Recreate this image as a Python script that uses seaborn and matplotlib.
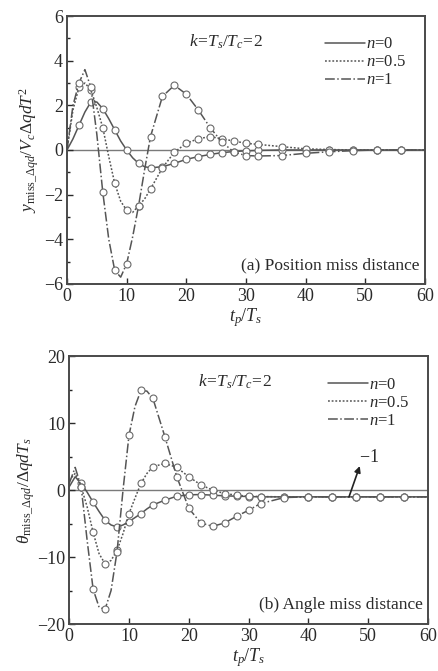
import numpy as np
import pandas as pd
import matplotlib
matplotlib.use("Agg")
import matplotlib.pyplot as plt
import seaborn as sns

sns.set_theme(style="white")
plt.rcParams['font.family'] = ['Liberation Serif', 'DejaVu Serif']
plt.rcParams['mathtext.fontset'] = 'custom'
plt.rcParams['mathtext.rm'] = 'Liberation Serif'
plt.rcParams['mathtext.it'] = 'Liberation Serif:italic'
plt.rcParams['mathtext.bf'] = 'Liberation Serif:bold'

# ---------------- data ----------------
t = [0, 1, 2, 3, 4, 5, 6, 7, 8, 9, 10, 11, 12, 13, 14, 16, 18, 20, 22, 24, 26,
     28, 30, 32, 36, 40, 44, 48, 52, 56, 60]

# (a) position miss distance
pos_n0 = [0, 0.5, 1.1, 1.7, 2.15, 2.15, 1.85, 1.4, 0.9, 0.4, 0.0, -0.35, -0.6,
          -0.75, -0.8, -0.75, -0.6, -0.42, -0.3, -0.2, -0.12, -0.07, -0.04,
          -0.02, 0, 0, 0, 0, 0, 0, 0]
pos_n05 = [0, 1.8, 2.8, 3.0, 2.7, 1.9, 1.0, -0.3, -1.5, -2.3, -2.7, -2.8, -2.5,
           -2.2, -1.75, -0.8, -0.1, 0.3, 0.5, 0.6, 0.5, 0.4, 0.3, 0.25, 0.15,
           0.05, 0.02, 0, 0, 0, 0]
pos_n1 = [0, 2.0, 3.0, 3.6, 2.8, 0.7, -1.9, -4.0, -5.4, -5.7, -5.1, -3.9, -2.5,
          -0.9, 0.6, 2.4, 2.9, 2.5, 1.8, 1.0, 0.35, -0.1, -0.25, -0.27, -0.25,
          -0.15, -0.08, -0.03, 0, 0, 0]

# (b) angle miss distance
ang_n0 = [0.5, 2.0, 1.0, -0.3, -1.8, -3.2, -4.5, -5.2, -5.5, -5.2, -4.7, -4.1,
          -3.5, -2.8, -2.2, -1.5, -0.9, -0.7, -0.65, -0.75, -0.85, -0.9, -0.95,
          -1.0, -1.0, -1.0, -1.0, -1.0, -1.0, -1.0, -1.0]
ang_n05 = [1.5, 2.5, 0.5, -2.5, -6.3, -9.5, -11.0, -10.5, -9.0, -6.5, -3.5, -1.2,
           1.0, 2.5, 3.5, 4.0, 3.4, 2.0, 0.8, 0.0, -0.5, -0.75, -0.9, -0.95,
           -1.0, -1.0, -1.0, -1.0, -1.0, -1.0, -1.0]
ang_n1 = [1.0, 3.4, 0.5, -7.5, -14.8, -17.5, -17.8, -15.0, -9.2, 0.0, 8.2, 12.5,
          14.9, 14.8, 13.7, 8.0, 2.0, -2.7, -4.9, -5.4, -4.9, -3.9, -3.0, -2.0,
          -1.1, -1.0, -1.0, -1.0, -1.0, -1.0, -1.0]

series_labels = [r"$n$=0", r"$n$=0.5", r"$n$=1"]
x_ticks = [0, 10, 20, 30, 40, 50, 60]
pos_yticks = [-6, -4, -2, 0, 2, 4, 6]
ang_yticks = [-20, -10, 0, 10, 20]
final_angle = -1

# ---------------- style ----------------
line_col = '#555555'
txt_col = '#2a2a2a'
styles = ['-', (0, (1.2, 1.2)), '-.']
marker_idx = [i for i, v in enumerate(t) if v >= 2 and v % 2 == 0 and v <= 56]

fig = plt.figure(figsize=(4.38, 6.71), dpi=100)
ax1 = fig.add_axes([0.153, 0.577, 0.817, 0.399])
ax2 = fig.add_axes([0.158, 0.070, 0.819, 0.399])


def draw(ax, ys):
    for y, ls, lab in zip(ys, styles, series_labels):
        df = pd.DataFrame({'t': t, 'v': y})
        sns.lineplot(data=df, x='t', y='v', ax=ax, color=line_col, linestyle=ls,
                     linewidth=1.1, marker='o', markersize=5,
                     markerfacecolor='white', markeredgecolor='#6a6a6a',
                     markeredgewidth=0.8, markevery=marker_idx, label=lab)
    ax.axhline(0, color='#7a7a7a', lw=1.0, zorder=0)
    for s in ax.spines.values():
        s.set_color('#4a4a4a')
        s.set_linewidth(1.4)
    ax.set_xlim(0, 60)
    ax.set_xticks(x_ticks)
    ax.tick_params(axis='both', direction='in', length=4, width=1.0,
                   labelsize=13, colors=txt_col, pad=3,
                   bottom=True, left=True, top=False, right=False)
    ax.tick_params(which='minor', direction='in', length=2.5, left=True,
                   bottom=False)
    ax.set_xlabel(r"$t_p/T_s$", fontsize=13, color=txt_col, labelpad=1)
    leg = ax.legend(loc='upper right', bbox_to_anchor=(0.99, 0.98),
                    frameon=False, fontsize=12, handlelength=2.4,
                    handletextpad=0.1, labelspacing=0.12)
    for line in leg.get_lines():
        line.set_marker('')
    for txt in leg.get_texts():
        txt.set_color(txt_col)


draw(ax1, [pos_n0, pos_n05, pos_n1])
ax1.set_ylim(-6, 6)
ax1.set_yticks(pos_yticks)
ax1.set_yticks([-5, -3, -1, 1, 3, 5], minor=True)
ax1.set_ylabel(r"$y_{\mathrm{miss\_\Delta}qd}/V_c\Delta qdT^2$", fontsize=12.5,
               color=txt_col, labelpad=2)
ax1.text(0.34, 0.905, r"$k\!=\!T_s/T_c\!=\!2$", transform=ax1.transAxes,
         fontsize=12.5, color=txt_col, va='center')
ax1.text(0.985, 0.04, "(a) Position miss distance", transform=ax1.transAxes,
         fontsize=12.5, color=txt_col, ha='right', va='bottom')

draw(ax2, [ang_n0, ang_n05, ang_n1])
ax2.set_ylim(-20, 20)
ax2.set_yticks(ang_yticks)
ax2.set_yticks([-15, -5, 5, 15], minor=True)
ax2.set_ylabel(r"$\theta_{\mathrm{miss\_\Delta}qd}/\Delta qdT_s$", fontsize=12.5,
               color=txt_col, labelpad=0)
ax2.text(0.36, 0.905, r"$k\!=\!T_s/T_c\!=\!2$", transform=ax2.transAxes,
         fontsize=12.5, color=txt_col, va='center')
ax2.text(0.985, 0.04, "(b) Angle miss distance", transform=ax2.transAxes,
         fontsize=12.5, color=txt_col, ha='right', va='bottom')
ax2.annotate('', xy=(48.6, 3.6), xytext=(46.8, final_angle),
             arrowprops=dict(arrowstyle='-|>', color='#222222', lw=1.2,
                             mutation_scale=9, shrinkA=0, shrinkB=0))
ax2.text(48.4, 4.9, r"$-$1", fontsize=13, color=txt_col, va='center')

fig.savefig("out.png", dpi=100)
